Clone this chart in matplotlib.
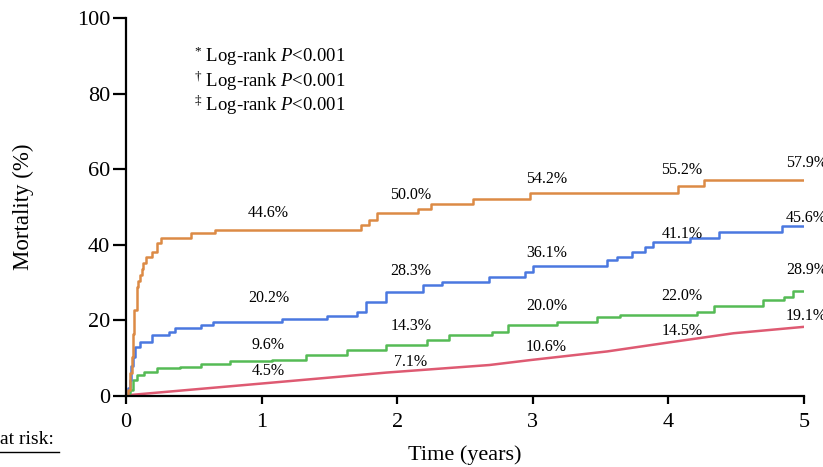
import numpy as np
import matplotlib
matplotlib.use("Agg")
import matplotlib.pyplot as plt
from matplotlib.lines import Line2D

plt.rcParams['font.family'] = ['Liberation Serif', 'DejaVu Serif']
plt.rcParams['mathtext.fontset'] = 'custom'
plt.rcParams['mathtext.rm'] = 'Liberation Serif'
plt.rcParams['mathtext.it'] = 'Liberation Serif:italic'

# cumulative mortality curves (time in years, mortality in %)
orange_t = [0, 0.017, 0.03, 0.042, 0.05, 0.059, 0.079, 0.09, 0.103, 0.115, 0.128, 0.15, 0.19,
            0.226, 0.26, 0.48, 0.66, 1.73, 1.79, 1.85, 2.15, 2.25, 2.56, 2.98, 4.07, 4.26, 5.0]
orange_y = [0, 1.6, 6.0, 10.4, 16.5, 22.8, 28.9, 30.5, 32.0, 33.6, 35.1, 36.9, 38.2,
            40.4, 41.7, 43.0, 43.9, 45.2, 46.6, 48.3, 49.4, 50.7, 52.2, 53.6, 55.6, 57.1, 57.1]

blue_t = [0, 0.015, 0.03, 0.04, 0.054, 0.07, 0.1, 0.19, 0.32, 0.36, 0.55, 0.64, 1.15, 1.48,
          1.70, 1.77, 1.92, 2.19, 2.33, 2.68, 2.94, 3.0, 3.55, 3.62, 3.73, 3.83, 3.89, 4.16,
          4.37, 4.84, 5.0]
blue_y = [0, 2.0, 4.2, 8.0, 10.4, 13.0, 14.4, 16.1, 17.0, 17.9, 18.8, 19.7, 20.4, 21.2,
          22.3, 24.9, 27.6, 29.4, 30.2, 31.6, 32.9, 34.4, 36.0, 36.9, 38.0, 39.5, 40.8, 41.9,
          43.5, 45.1, 45.1]

green_t = [0, 0.015, 0.03, 0.054, 0.08, 0.13, 0.23, 0.4, 0.55, 0.77, 1.08, 1.33, 1.63, 1.92,
           2.22, 2.38, 2.70, 2.82, 3.18, 3.47, 3.64, 4.21, 4.34, 4.70, 4.85, 4.92, 5.0]
green_y = [0, 0.8, 1.6, 4.2, 5.6, 6.4, 7.3, 7.8, 8.6, 9.3, 9.5, 10.8, 12.2, 13.5,
           14.8, 16.1, 17.0, 18.8, 19.7, 21.0, 21.4, 22.3, 23.9, 25.4, 26.3, 27.9, 27.9]

red_t = [0, 0.04, 1.0, 1.92, 2.68, 2.98, 3.55, 3.99, 4.48, 5.0]
red_y = [0, 0.3, 3.3, 6.2, 8.2, 9.5, 11.8, 14.1, 16.6, 18.3]

# annotated percentages at yearly marks
orange_lab = ["44.6%", "50.0%", "54.2%", "55.2%", "57.9%"]
blue_lab = ["20.2%", "28.3%", "36.1%", "41.1%", "45.6%"]
green_lab = ["9.6%", "14.3%", "20.0%", "22.0%", "28.9%"]
red_lab = ["4.5%", "7.1%", "10.6%", "14.5%", "19.1%"]

# label placement
lab_x = [1.05, 2.1, 3.1, 4.1, 5.02]
orange_ly = [48.4, 53.2, 57.4, 59.8, 61.6]
blue_ly = [25.9, 33.1, 37.8, 42.9, 47.1]
green_ly = [13.5, 18.5, 23.8, 26.5, 33.3]
red_ly = [6.6, 9.0, 13.0, 17.2, 21.2]

c_orange = '#dc8a45'
c_blue = '#4a78e0'
c_green = '#55bb55'
c_red = '#de5a72'

fig = plt.figure(figsize=(8.23, 4.67), dpi=100)
ax = fig.add_axes([0.1531, 0.152, 0.8238, 0.8095])

ax.plot(red_t, red_y, color=c_red, lw=1.8)
ax.step(green_t, green_y, where='post', color=c_green, lw=1.8)
ax.step(blue_t, blue_y, where='post', color=c_blue, lw=1.8)
ax.step(orange_t, orange_y, where='post', color=c_orange, lw=1.8)

for labs, lys in [(orange_lab, orange_ly), (blue_lab, blue_ly),
                  (green_lab, green_ly), (red_lab, red_ly)]:
    for x, y, s in zip(lab_x, lys, labs):
        ax.text(x, y, s, ha='center', va='center', fontsize=11.5, clip_on=False)

ax.set_xlim(0, 5)
ax.set_ylim(0, 100)
ax.set_xticks([0, 1, 2, 3, 4, 5])
ax.set_yticks([0, 20, 40, 60, 80, 100])
ax.spines['top'].set_visible(False)
ax.spines['right'].set_visible(False)
ax.spines['left'].set_linewidth(1.6)
ax.spines['bottom'].set_linewidth(1.6)
ax.tick_params(axis='y', length=9.5, width=1.6, labelsize=16, pad=2)
ax.tick_params(axis='x', length=6, width=1.6, labelsize=16, pad=6)
ax.set_ylabel("Mortality (%)", fontsize=16.5)
ax.yaxis.set_label_coords(-0.135, 0.5)
ax.set_xlabel("Time (years)", fontsize=16)
ax.xaxis.set_label_coords(0.5, -0.13)

txts = [r"$^{*}$ Log-rank $P$<0.001", r"$^{\dag}$ Log-rank $P$<0.001", r"$^{\ddag}$ Log-rank $P$<0.001"]
for i, s in enumerate(txts):
    ax.text(0.5, 89.8 - i * 6.5, s, fontsize=13.5, ha='left', va='center')

fig.text(0.0, 0.058, "at risk:", fontsize=14, ha='left', va='center')
fig.add_artist(Line2D([0.0, 0.072], [0.033, 0.033], color='black', lw=1.0, transform=fig.transFigure))

fig.savefig("out.png", dpi=100)
